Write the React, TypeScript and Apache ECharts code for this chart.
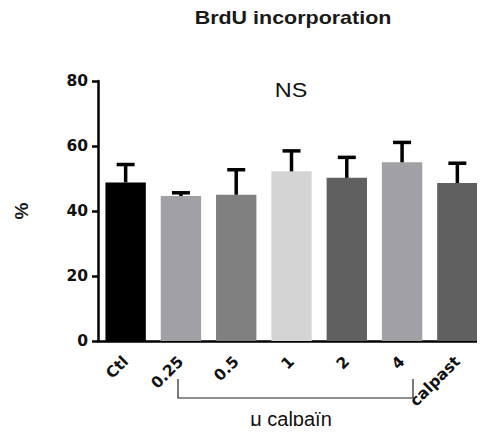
import React, { useEffect, useRef } from "react";
import * as echarts from "echarts";

const categories = ["Ctl", "0.25", "0.5", "1", "2", "4", "calpast"];
const means = [48.8, 44.6, 45.0, 52.2, 50.2, 55.0, 48.6];
const errTops = [54.3, 45.6, 52.7, 58.5, 56.5, 61.1, 54.7];
const barColors = ["#000000", "#a1a1a5", "#808080", "#d4d4d4", "#606060", "#a1a1a5", "#606060"];
const yTicks = { min: 0, max: 80, interval: 20 };
const titleText = "BrdU incorporation";
const yLabel = "%";
const sigText = "NS";
const groupLabel = "μ calpaïn";

export default function App() {
  const ref = useRef<HTMLDivElement>(null);
  useEffect(() => {
    if (!ref.current) return;
    const chart = echarts.init(ref.current, undefined, { renderer: "svg" });
    const font = "'Liberation Sans', Arial, Helvetica, sans-serif";
    const axisFont = "'DejaVu Sans', sans-serif";
    chart.setOption({
      animation: false,
      grid: { left: 98, top: 81, bottom: 93, right: -5, containLabel: false },
      xAxis: {
        type: "category",
        data: categories,
        axisLine: { lineStyle: { color: "#000", width: 2.5 } },
        axisTick: { alignWithLabel: true, length: 7, lineStyle: { color: "#000", width: 2.5 } },
        axisLabel: {
          rotate: 45,
          color: "#111",
          fontFamily: axisFont,
          fontWeight: "bold",
          fontSize: 15.5,
          margin: 18,
          interval: 0,
        },
      },
      yAxis: {
        type: "value",
        min: yTicks.min,
        max: yTicks.max,
        interval: yTicks.interval,
        splitLine: { show: false },
        axisLine: { show: true, lineStyle: { color: "#000", width: 2.5 } },
        axisTick: { show: true, length: 6, lineStyle: { color: "#000", width: 2.5 } },
        axisLabel: {
          color: "#111",
          fontFamily: axisFont,
          fontWeight: "bold",
          fontSize: 15.5,
          margin: 10,
        },
      },
      series: [
        {
          type: "bar",
          data: means.map((v, i) => ({ value: v, itemStyle: { color: barColors[i] } })),
          barWidth: "73%",
          z: 2,
        },
        {
          type: "custom",
          z: 3,
          data: means.map((v, i) => [i, v, errTops[i]]),
          renderItem: (params: any, api: any) => {
            const x = api.value(0);
            const base = api.coord([x, api.value(1)]);
            const top = api.coord([x, api.value(2)]);
            const half = 9;
            return {
              type: "group",
              children: [
                {
                  type: "line",
                  shape: { x1: base[0], y1: base[1], x2: top[0], y2: top[1] },
                  style: { stroke: "#000", lineWidth: 3.5 },
                },
                {
                  type: "line",
                  shape: { x1: top[0] - half, y1: top[1], x2: top[0] + half, y2: top[1] },
                  style: { stroke: "#000", lineWidth: 3.5 },
                },
              ],
            };
          },
        },
      ],
      graphic: [
        {
          type: "text",
          x: 293,
          y: 17,
          scaleX: 1.13,
          style: {
            text: titleText,
            fontFamily: font,
            fontSize: 19,
            fontWeight: "bold",
            fill: "#1a1a1a",
            align: "center",
            verticalAlign: "middle",
          },
        },
        {
          type: "text",
          x: 21,
          y: 211,
          rotation: Math.PI / 2,
          style: {
            text: yLabel,
            fontFamily: font,
            fontSize: 19,
            fontWeight: "bold",
            fill: "#1a1a1a",
            align: "center",
            verticalAlign: "middle",
          },
        },
        {
          type: "text",
          x: 291,
          y: 91,
          scaleX: 1.2,
          style: {
            text: sigText,
            fontFamily: font,
            fontSize: 19.5,
            fill: "#111",
            align: "center",
            verticalAlign: "middle",
          },
        },
        {
          type: "polyline",
          shape: { points: [[178, 379], [178, 398], [413, 398], [413, 379]] },
          style: { stroke: "#222", lineWidth: 1.2, fill: "none" },
        },
        {
          type: "text",
          x: 291,
          y: 419,
          style: {
            text: groupLabel,
            fontFamily: font,
            fontSize: 20,
            fill: "#111",
            align: "center",
            verticalAlign: "middle",
          },
        },
      ],
    });
    return () => chart.dispose();
  }, []);
  return <div ref={ref} style={{ width: 485, height: 434, margin: -8 }} />;
}
